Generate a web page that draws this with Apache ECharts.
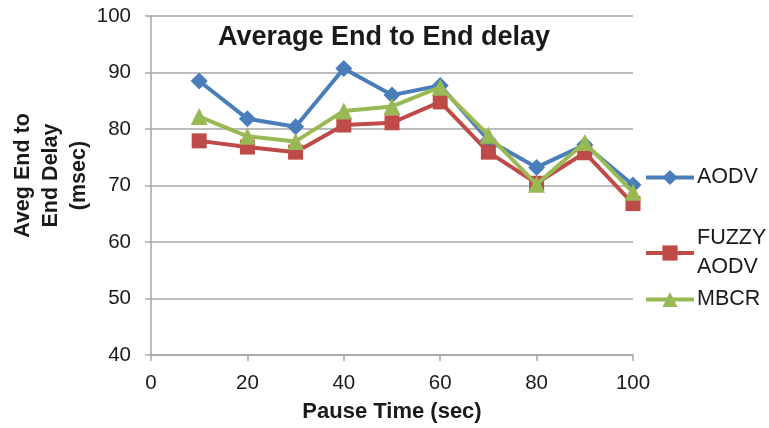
<!DOCTYPE html>
<html><head><meta charset="utf-8">
<script src="https://cdn.jsdelivr.net/npm/echarts@6/dist/echarts.min.js"></script>
<style>html,body{margin:0;padding:0;background:#fff}#c{width:769px;height:428px}</style>
</head><body><div id="c"></div>
<script>
const pauseTimes = [10,20,30,40,50,60,70,80,90,100];
const aodv  = [88.5,81.8,80.4,90.7,86.0,87.7,78.0,73.2,77.2,70.1];
const fuzzy = [77.9,76.8,75.9,80.7,81.1,84.8,75.9,70.4,75.8,66.8];
const mbcr  = [82.2,78.7,77.8,83.2,84.0,87.4,78.9,70.2,77.6,68.8];
const seriesNames = ['AODV','FUZZY\nAODV','MBCR'];
const colors = ['#4A7EBB','#BE4B48','#98B954'];
const symbols = ['diamond','rect','triangle'];
const symbolSizes = [17,15,17];
const font = 'Liberation Sans, Arial, sans-serif';
const dataSets = [aodv,fuzzy,mbcr];
const chart = echarts.init(document.getElementById('c'));
const legendTops = [163,224,285];
chart.setOption({
  animation:false,
  title:{text:'Average End to End delay',left:218,top:24,padding:0,
    textStyle:{fontFamily:font,fontSize:27,fontWeight:'bold',color:'#1a1a1a'}},
  grid:{left:151,right:136,top:16,bottom:73,containLabel:false,outerBoundsMode:'none'},
  legend: seriesNames.map((n,i)=>({
    data:[n],orient:'vertical',left:644,top:legendTops[i],itemWidth:48,itemHeight:19,itemGap:0,padding:0,
    lineStyle:{width:4},
    textStyle:{fontFamily:font,fontSize:21.5,color:'#1a1a1a',lineHeight:29,padding:[0,0,0,-2]}
  })),
  xAxis:{type:'value',min:0,max:100,interval:20,
    name:'Pause Time (sec)',nameLocation:'middle',nameGap:46,nameMoveOverlap:false,
    nameTextStyle:{fontFamily:font,fontSize:22,fontWeight:'bold',color:'#1a1a1a'},
    axisLine:{show:true,lineStyle:{color:'#a6a6a6',width:1.5}},
    axisTick:{show:true,length:6,lineStyle:{color:'#a6a6a6',width:1.5}},
    axisLabel:{fontFamily:font,fontSize:20.5,color:'#1a1a1a',margin:18},
    splitLine:{show:false}},
  yAxis:{type:'value',min:40,max:100,interval:10,
    name:'Aveg End to\nEnd Delay\n(msec)',nameLocation:'middle',nameGap:58,nameRotate:90,nameMoveOverlap:false,
    nameTextStyle:{fontFamily:font,fontSize:21.5,fontWeight:'bold',color:'#1a1a1a',lineHeight:28,padding:[0,0,0,20]},
    axisLine:{show:true,lineStyle:{color:'#a6a6a6',width:1.5}},
    axisTick:{show:true,length:6,lineStyle:{color:'#a6a6a6',width:1.5}},
    axisLabel:{fontFamily:font,fontSize:20.5,color:'#1a1a1a',margin:20},
    splitLine:{show:true,lineStyle:{color:'#a6a6a6',width:1.5}}},
  series: seriesNames.map((n,i)=>({
    name:n,type:'line',data:pauseTimes.map((x,j)=>[x,dataSets[i][j]]),
    symbol:symbols[i],symbolSize:symbolSizes[i],showAllSymbol:true,
    itemStyle:{color:colors[i]},lineStyle:{color:colors[i],width:4},z:2+i
  }))
});
</script></body></html>
